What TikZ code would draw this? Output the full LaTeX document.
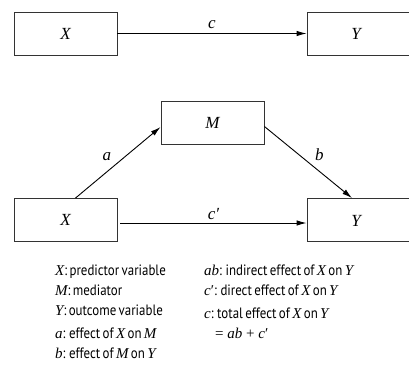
\documentclass[tikz,border=0pt]{standalone}
\usepackage{fontspec}
\setmainfont{Liberation Serif}
\newfontfamily\cond[FakeStretch=0.86,WordSpace={0.7,0.3,0.2}]{PT Sans}
\usetikzlibrary{arrows.meta,positioning}
\newcommand{\vi}[1]{{\rmfamily\itshape #1}}
\begin{document}
\begin{tikzpicture}[x=1pt,y=-1pt,
  box/.style={draw=black!80,line width=0.9pt,minimum width=103pt,minimum height=43pt,inner sep=0pt,font=\fontsize{17}{20}\selectfont\itshape},
  arr/.style={line width=0.9pt,-{Latex[length=10pt,width=5.5pt]}},
  lab/.style={font=\fontsize{17}{20}\selectfont\itshape},
  leg/.style={anchor=base west,inner sep=0pt,font=\fontsize{15}{18}\selectfont\cond}]
\useasboundingbox (0,0) rectangle (409,372);
\begin{scope}
\clip (0,0) rectangle (409,372);
\node[box] (X1) at (65.5,33.5) {X};
\node[box,minimum width=106pt] (Y1) at (360,33.5) {};
\node[box,minimum width=106pt] (Y2) at (360,220) {};
\end{scope}
\node[lab] at (356,34) {Y};
\node[lab] at (356,220.5) {Y};
\node[box] (M) at (212.5,122.5) {M};
\node[box] (X2) at (65.5,220) {X};
\draw[arr] (X1.east) -- node[lab,above=1pt] {c} (Y1.west);
\draw[arr] ([xshift=10pt]X2.north) -- node[lab,above left=-2pt and 3pt] {a} ([yshift=-4.5pt]M.west);
\draw[arr] ([yshift=-4pt]M.east) -- node[lab,above right=-2pt and 3pt] {b} ([xshift=-8pt]Y2.north);
\draw[arr] ([xshift=3pt,yshift=-3pt]X2.east) -- node[lab,above=0pt] {c′} ([yshift=-3pt]Y2.west);
\node[leg] (l1) at (55,275) {\vi{X}: predictor variable};
\node[leg] (l2) at (55,295) {\vi{M}: mediator};
\node[leg] (l3) at (55,315) {\vi{Y}: outcome variable};
\node[leg] (l4) at (55,338) {\vi{a}: effect of \vi{X} on \vi{M}};
\node[leg] (l5) at (55,358) {\vi{b}: effect of \vi{M} on \vi{Y}};
\node[leg] (r1) at (204,275) {\vi{ab}: indirect effect of \vi{X} on \vi{Y}};
\node[leg] (r2) at (204,295) {\vi{c}{\rmfamily′}: direct effect of \vi{X} on \vi{Y}};
\node[leg] (r3) at (204,318) {\vi{c}: total effect of \vi{X} on \vi{Y}};
\node[leg] (r4) at (215,338) {{\rmfamily = \textit{ab} + \textit{c}′}};
\end{tikzpicture}
\end{document}
